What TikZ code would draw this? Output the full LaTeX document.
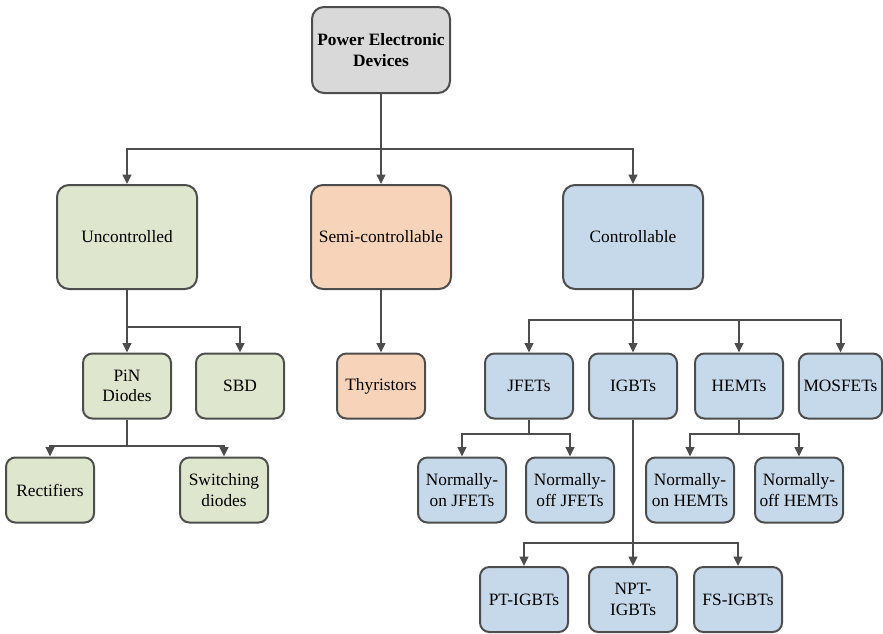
\documentclass[tikz,border=0pt]{standalone}
\usepackage{fontspec}
\setmainfont{Liberation Serif}
\usetikzlibrary{arrows.meta}
\definecolor{cgray}{HTML}{D9D9D9}
\definecolor{cgreen}{HTML}{DEE6CD}
\definecolor{corange}{HTML}{F7D4B9}
\definecolor{cblue}{HTML}{C6D9EA}
\definecolor{edge}{HTML}{4D4D4D}
\begin{document}
\begin{tikzpicture}[x=0.75pt,y=-0.75pt,
  box/.style={draw=edge, line width=1.5pt, rounded corners=7pt, align=center,
    inner sep=1pt, font=\fontsize{13}{15.5}\selectfont},
  big/.style={box, minimum width=105pt, minimum height=78pt, rounded corners=9pt},
  small/.style={box, minimum width=66pt, minimum height=48.75pt},
  gr/.style={fill=cgreen}, og/.style={fill=corange}, bl/.style={fill=cblue},
  arr/.style={draw=edge, line width=1.5pt, -{Triangle[length=7pt,width=6.5pt]}}]
\useasboundingbox (0,0) rectangle (883,633);
\node[box, fill=cgray, minimum width=103.5pt, minimum height=64.5pt, rounded corners=9pt,
  font=\fontsize{13}{15.5}\selectfont\bfseries] (ped) at (381,50) {Power Electronic\\Devices};
\node[big, gr] (unc) at (127,237) {Uncontrolled};
\node[big, og] (semi) at (381,237) {Semi-controllable};
\node[big, bl] (ctrl) at (633,237) {Controllable};
\node[small, gr] (pin) at (127,386) {PiN\\Diodes};
\node[small, gr] (sbd) at (240,386) {SBD};
\node[small, og] (thy) at (381,386) {Thyristors};
\node[small, bl] (jfet) at (529,386) {JFETs};
\node[small, bl] (igbt) at (633,386) {IGBTs};
\node[small, bl] (hemt) at (739,386) {HEMTs};
\node[small, bl, minimum width=62.5pt] (mos) at (840.5,386) {MOSFETs};
\node[small, gr] (rect) at (50,490) {Rectifiers};
\node[small, gr] (sw) at (224,490) {Switching\\diodes};
\node[small, bl] (nonj) at (462,490) {Normally-\\on JFETs};
\node[small, bl] (noffj) at (570,490) {Normally-\\off JFETs};
\node[small, bl] (nonh) at (690,490) {Normally-\\on HEMTs};
\node[small, bl] (noffh) at (799,490) {Normally-\\off HEMTs};
\node[small, bl] (pt) at (524,599.5) {PT-IGBTs};
\node[small, bl] (npt) at (633,599.5) {NPT-\\IGBTs};
\node[small, bl] (fs) at (738,599.5) {FS-IGBTs};
% top level
\draw[arr] (ped.south) -- ++(0,55) -| (unc.north);
\draw[arr] (ped.south) -- (semi.north);
\draw[arr] (ped.south) -- ++(0,55) -| (ctrl.north);
% uncontrolled
\draw[arr] (unc.south) -- (pin.north);
\draw[arr] (unc.south) -- ++(0,37) -| (sbd.north);
\draw[arr] (semi.south) -- (thy.north);
% controllable
\draw[arr] (ctrl.south) -- ++(0,30) -| (jfet.north);
\draw[arr] (ctrl.south) -- (igbt.north);
\draw[arr] (ctrl.south) -- ++(0,30) -| (hemt.north);
\draw[arr] (ctrl.south) -- ++(0,30) -| (mos.north);
% pin
\draw[arr] (pin.south) -- ++(0,26) -| (rect.north);
\draw[arr] (pin.south) -- ++(0,26) -| (sw.north);
% jfet
\draw[arr] (jfet.south) -- ++(0,14) -| (nonj.north);
\draw[arr] (jfet.south) -- ++(0,14) -| (noffj.north);
% hemt
\draw[arr] (hemt.south) -- ++(0,14) -| (nonh.north);
\draw[arr] (hemt.south) -- ++(0,14) -| (noffh.north);
% igbt
\draw[arr] (igbt.south) -- ++(0,123) -| (pt.north);
\draw[arr] (igbt.south) -- (npt.north);
\draw[arr] (igbt.south) -- ++(0,123) -| (fs.north);
\end{tikzpicture}
\end{document}
